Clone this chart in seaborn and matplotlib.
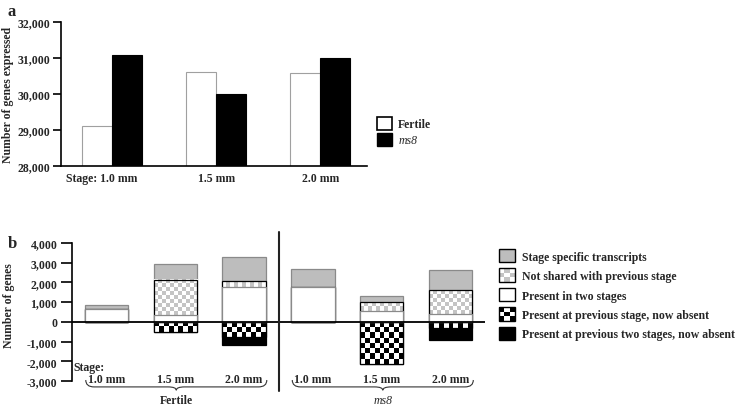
import numpy as np
import pandas as pd
import matplotlib
matplotlib.use("Agg")
import matplotlib.pyplot as plt
import seaborn as sns
from matplotlib.patches import Patch, Rectangle, PathPatch
from matplotlib.path import Path
from matplotlib.colors import ListedColormap
from matplotlib.legend_handler import HandlerBase
import matplotlib.transforms as mtransforms

# ---------------- data: panel a ----------------
stages_a = ["Stage: 1.0 mm", "1.5 mm", "2.0 mm"]
genotypes = ["Fertile", "ms8"]
fertile_expr = [29120, 30610, 30570]
ms8_expr = [31090, 29990, 30990]
yticks_a = [28000, 29000, 30000, 31000, 32000]

# ---------------- data: panel b ----------------
bar_ids = ["F1.0", "F1.5", "F2.0", "M1.0", "M1.5", "M2.0"]
stage_labels_b = ["1.0 mm", "1.5 mm", "2.0 mm", "1.0 mm", "1.5 mm", "2.0 mm"]
group_names = ["Fertile", "ms8"]
stage_specific = [230, 810, 1185, 890, 305, 1010]
not_shared = [0, 1780, 300, 0, 455, 1190]
two_stages = [630, 340, 1780, 1790, 560, 420]
prev_absent = [0, 510, 760, 0, 2130, 320]
prev_two_absent = [0, 0, 410, 0, 0, 610]
yticks_b = [-3000, -2000, -1000, 0, 1000, 2000, 3000, 4000]
legend_b = ["Stage specific transcripts", "Not shared with previous stage",
            "Present in two stages", "Present at previous stage, now absent",
            "Present at previous two stages, now absent"]

sns.set_theme(style="white")
plt.rcParams["font.family"] = ["Liberation Serif", "DejaVu Serif"]
plt.rcParams["font.weight"] = "bold"

GRAY = "#bdbdbd"
GRAY_EDGE = "#8a8a8a"
LIGHT_CHK = "#c4c4c4"
FS = 8.5

W, H = 741, 410
fig = plt.figure(figsize=(W / 100, H / 100), dpi=100)
axa = fig.add_axes([61 / W, 1 - 167 / H, (367 - 61) / W, (167 - 23) / H])
axb = fig.add_axes([72 / W, 1 - 382 / H, (485 - 72) / W, (382 - 244) / H])

# ================= panel a =================
df_a = pd.DataFrame({
    "stage": stages_a * 2,
    "genotype": ["Fertile"] * 3 + ["ms8"] * 3,
    "genes": fertile_expr + ms8_expr,
})
sns.barplot(data=df_a, x="stage", y="genes", hue="genotype", order=stages_a,
            hue_order=genotypes, palette={"Fertile": "white", "ms8": "black"},
            width=0.58, edgecolor="black", linewidth=0.8, errorbar=None,
            saturation=1, legend=False, ax=axa)
for p in axa.patches:
    fc = p.get_facecolor()
    if fc[0] > 0.5:
        p.set_edgecolor("#a0a0a0")
axa.set_ylim(28000, 32000)
axa.set_xlim(-0.49, 2.45)
axa.set_yticks(yticks_a)
axa.set_yticklabels([f"{v:,}" for v in yticks_a])
axa.set_xlabel("")
axa.set_ylabel("Number of genes expressed", fontsize=FS, fontweight="bold")
axa.yaxis.set_label_coords(-0.155, 0.5)
sns.despine(ax=axa)
for s in ["left", "bottom"]:
    axa.spines[s].set_color("black")
    axa.spines[s].set_linewidth(1.2)
axa.tick_params(axis="y", left=True, direction="out", length=6, width=1.2,
                pad=1.5, labelsize=FS, color="black")
axa.tick_params(axis="x", bottom=False, length=0, pad=4, labelsize=FS)
lbl0 = axa.get_xticklabels()[0]
lbl0.set_transform(lbl0.get_transform() +
                   mtransforms.ScaledTranslation(-0.10, 0, fig.dpi_scale_trans))

hf = Patch(facecolor="white", edgecolor="black", linewidth=1.2)
hm = Patch(facecolor="black", edgecolor="black")
leg_a = fig.legend([hf, hm], genotypes, loc="upper left",
                   bbox_to_anchor=(377 / W, 1 - 118 / H), frameon=False,
                   borderpad=0, borderaxespad=0, handlelength=1.3,
                   handleheight=1.3, labelspacing=0.2, handletextpad=0.5,
                   fontsize=FS)
leg_a.get_texts()[1].set_fontstyle("italic")
leg_a.get_texts()[1].set_fontweight("normal")

# ================= panel b =================
pos_total = [a + b + c for a, b, c in zip(two_stages, not_shared, stage_specific)]
white_chk = [a + b for a, b in zip(two_stages, not_shared)]
neg_total = [-(a + b) for a, b in zip(prev_absent, prev_two_absent)]
neg_chk = [-a for a in prev_absent]
BW = 0.63
common = dict(x=bar_ids, order=bar_ids, width=BW, errorbar=None,
              saturation=1, ax=axb, linewidth=0.9)

sns.barplot(y=pos_total, color=GRAY, edgecolor=GRAY_EDGE, zorder=2, **common)
sns.barplot(y=neg_total, color="black", edgecolor="black", zorder=2, **common)

xlim_b = (-0.5, 5.5)
ylim_b = (-3000, 4000)
px_x = (485 - 72) / (xlim_b[1] - xlim_b[0])
px_y = (382 - 244) / (ylim_b[1] - ylim_b[0])


def checker(ax, xc, lo, hi, cell_px, colors):
    if hi - lo <= 0:
        return
    ncols = max(1, int(round(BW * px_x / cell_px)))
    nrows = max(1, int(round((hi - lo) * px_y / cell_px)))
    arr = np.add.outer(np.arange(nrows), np.arange(ncols)) % 2
    ax.imshow(arr, extent=[xc - BW / 2, xc + BW / 2, lo, hi], origin="upper",
              aspect="auto", interpolation="nearest",
              cmap=ListedColormap(colors), vmin=0, vmax=1, zorder=3)


for i in range(len(bar_ids)):
    checker(axb, i, two_stages[i], white_chk[i], 4, ["white", LIGHT_CHK])
    checker(axb, i, neg_chk[i], 0, 5, ["black", "white"])

sns.barplot(y=white_chk, fill=False, color="black", zorder=3.5, **common)
sns.barplot(y=neg_chk, fill=False, color="black", zorder=3.5, **common)
sns.barplot(y=two_stages, color="white", edgecolor=GRAY_EDGE, zorder=4, **common)

axb.axhline(0, color="black", lw=1.3, zorder=6)
axb.set_xlim(*xlim_b)
axb.set_ylim(*ylim_b)
axb.set_yticks(yticks_b)
axb.set_yticklabels([f"{v:,}" for v in yticks_b])
axb.set_xticks([])
axb.set_xlabel("")
axb.set_ylabel("Number of genes", fontsize=FS, fontweight="bold")
axb.yaxis.set_label_coords(-0.138, 0.55)
sns.despine(ax=axb, bottom=True)
axb.spines["left"].set_color("black")
axb.spines["left"].set_linewidth(1.2)
axb.tick_params(axis="y", left=True, direction="out", length=8, width=1.2,
                pad=2.5, labelsize=FS, color="black")

# divider between the two genotypes
axb.plot([2.5, 2.5], [4560, -3510], color="#222222", lw=1.5, clip_on=False,
         zorder=6)

axb.text(-0.48, -2290, "Stage:", ha="left", va="center", fontsize=FS,
         fontweight="bold")
for i, lab in enumerate(stage_labels_b):
    axb.text(i, -2890, lab, ha="center", va="center", fontsize=FS,
             fontweight="bold")


def brace(ax, x0, x1, ytop, ymid, ytip, curl):
    xc = (x0 + x1) / 2
    verts = [(x0, ytop), (x0, ymid), (x0 + curl, ymid),
             (xc - curl, ymid), (xc, ymid), (xc, ytip),
             (xc, ymid), (xc + curl, ymid),
             (x1 - curl, ymid), (x1, ymid), (x1, ytop)]
    codes = [Path.MOVETO, Path.CURVE3, Path.CURVE3, Path.LINETO,
             Path.CURVE3, Path.CURVE3, Path.CURVE3, Path.CURVE3,
             Path.LINETO, Path.CURVE3, Path.CURVE3]
    ax.add_patch(PathPatch(Path(verts, codes), facecolor="none",
                           edgecolor="#333333", lw=0.8, clip_on=False))


for g, name in enumerate(group_names):
    c = 3 * g + 1
    brace(axb, c - 1.3, c + 1.33, -2950, -3300, -3470, 0.12)
    t = axb.text(c + 0.02, -3960, name, ha="center", va="center", fontsize=FS,
                 fontweight="bold", clip_on=False)
    if name == "ms8":
        t.set_fontstyle("italic")
        t.set_fontweight("normal")


class CheckerHandler(HandlerBase):
    def __init__(self, c1, c2, n=3):
        super().__init__()
        self.c1, self.c2, self.n = c1, c2, n

    def create_artists(self, legend, orig_handle, xdescent, ydescent, width,
                       height, fontsize, trans):
        arts = []
        cw, ch = width / self.n, height / self.n
        for i in range(self.n):
            for j in range(self.n):
                col = self.c1 if (i + j) % 2 == 0 else self.c2
                arts.append(Rectangle((-xdescent + i * cw, -ydescent + j * ch),
                                      cw, ch, facecolor=col, edgecolor="none",
                                      transform=trans))
        arts.append(Rectangle((-xdescent, -ydescent), width, height,
                              facecolor="none", edgecolor="black", lw=1.0,
                              transform=trans))
        return arts


h1 = Patch(facecolor=GRAY, edgecolor="black", lw=1.0)
h2 = Patch(facecolor="white")
h3 = Patch(facecolor="white", edgecolor="black", lw=1.0)
h4 = Patch(facecolor="white")
h5 = Patch(facecolor="black", edgecolor="black")
fig.legend([h1, h2, h3, h4, h5], legend_b, loc="upper left",
           bbox_to_anchor=(499 / W, 1 - 250 / H), frameon=False,
           borderpad=0, borderaxespad=0, handlelength=1.35,
           handleheight=1.35, labelspacing=0.5, handletextpad=0.6,
           fontsize=FS,
           handler_map={h2: CheckerHandler("white", LIGHT_CHK),
                        h4: CheckerHandler("black", "white")})

fig.text(8 / W, 1 - 4 / H, "a", fontsize=12, fontweight="bold", va="top")
fig.text(8 / W, 1 - 236 / H, "b", fontsize=12, fontweight="bold", va="top")

fig.savefig("out.png", dpi=100)
